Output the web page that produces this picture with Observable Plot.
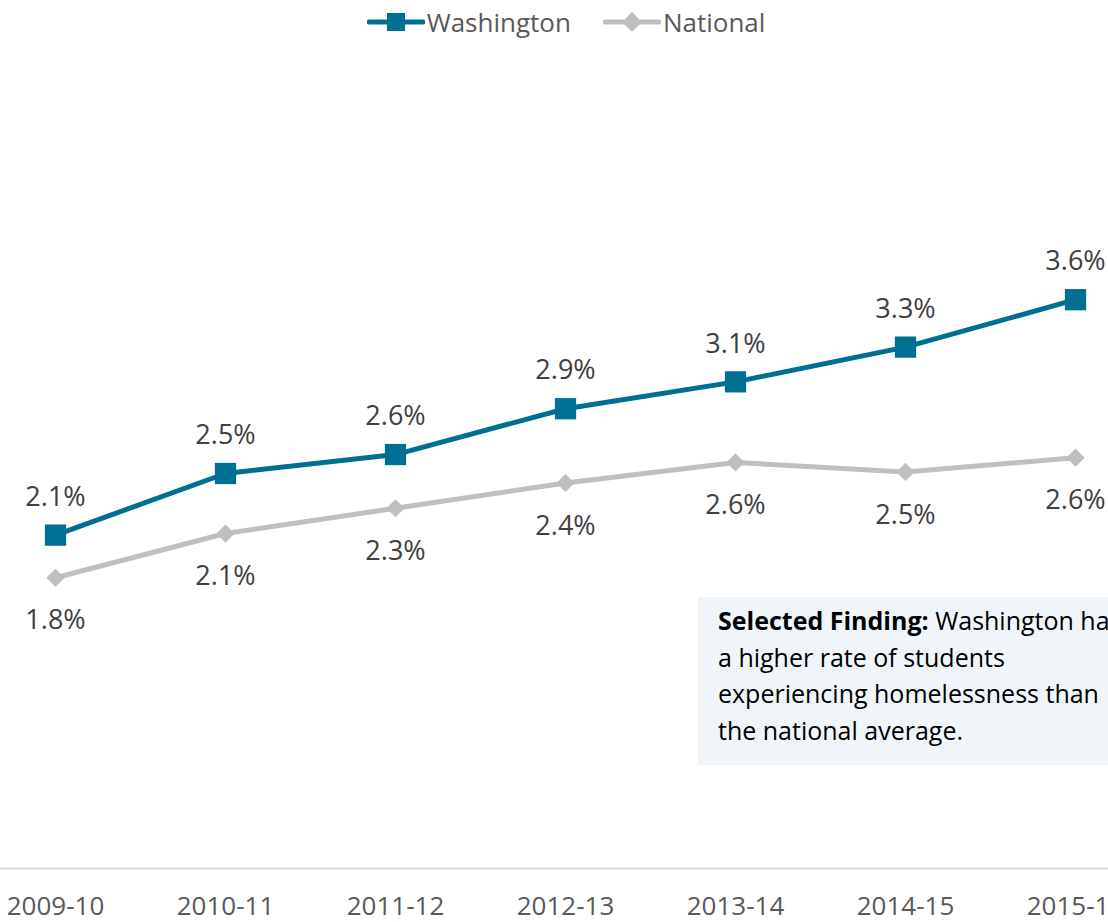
<!DOCTYPE html>
<html>
<head>
<meta charset="utf-8">
<script src="https://cdn.jsdelivr.net/npm/d3@7"></script>
<script src="https://cdn.jsdelivr.net/npm/@observablehq/plot@0.6"></script>
<style>
  html, body { margin: 0; padding: 0; background: #fff; }
  #wrap { position: relative; width: 1108px; height: 922px; overflow: hidden; font-family: "Open Sans", sans-serif; }
  #legend { height: 44px; display: flex; justify-content: center; align-items: center; gap: 32px; font-size: 26px; color: #595959; padding-left: 24px; box-sizing: border-box; }
  #legend .item { display: flex; align-items: center; }
  #legend svg { display: block; margin-right: 2px; }
  #note { position: absolute; left: 698px; top: 597px; width: 520px; height: 168px; background: #eff5f9; box-sizing: border-box; padding: 5px 0 0 20px; font-size: 25px; line-height: 36.5px; color: #000; white-space: pre; }
</style>
</head>
<body>
<div id="wrap">
  <div id="legend"></div>
  <div id="chart"></div>
  <div id="note"></div>
</div>
<script>
const years = ["2009-10", "2010-11", "2011-12", "2012-13", "2013-14", "2014-15", "2015-16"];
const washington = [2.11, 2.50, 2.62, 2.91, 3.08, 3.30, 3.60];
const national = [1.84, 2.12, 2.28, 2.44, 2.57, 2.51, 2.60];
const seriesNames = ["Washington", "National"];
const seriesColors = ["#006f94", "#bfbfbf"];
const noteBold = "Selected Finding:";
const noteText = " Washington has\na higher rate of students\nexperiencing homelessness than\nthe national average.";

const wData = years.map((y, i) => ({year: y, value: washington[i]}));
const nData = years.map((y, i) => ({year: y, value: national[i]}));
const fmt = d => d3.format(".1f")(d.value) + "%";

// Legend
const legend = document.getElementById("legend");
seriesNames.forEach((name, i) => {
  const item = document.createElement("div");
  item.className = "item";
  const sym = i === 0
    ? `<rect x="20" y="1" width="18" height="18" fill="${seriesColors[i]}"/>`
    : `<rect x="22" y="3" width="14" height="14" fill="${seriesColors[i]}" transform="rotate(45 29 10)"/>`;
  item.innerHTML = `<svg width="58" height="20"><line x1="2" y1="10" x2="56" y2="10" stroke="${seriesColors[i]}" stroke-width="5" stroke-linecap="round"/>${sym}</svg><span>${name}</span>`;
  legend.appendChild(item);
});

// Note
document.getElementById("note").innerHTML = `<b>${noteBold}</b>${noteText}`;

const chart = Plot.plot({
  width: 1108,
  height: 878,
  marginTop: 34,
  marginBottom: 54,
  marginLeft: 0,
  marginRight: 0,
  style: {fontFamily: "Open Sans", fontSize: "26px", color: "#595959", background: "white", overflow: "hidden"},
  x: {type: "point", domain: years, range: [55, 1075], padding: 0, label: null},
  y: {domain: [0, 5], axis: null},
  marks: [
    Plot.ruleY([0], {stroke: "#d9d9d9", strokeWidth: 2}),
    Plot.axisX({tickSize: 0, tickPadding: 28, fontSize: 26, fill: "#595959", label: null}),
    Plot.line(nData, {x: "year", y: "value", stroke: seriesColors[1], strokeWidth: 5}),
    Plot.dot(nData, {x: "year", y: "value", symbol: "diamond2", r: 8.2, fill: seriesColors[1], stroke: "none"}),
    Plot.line(wData, {x: "year", y: "value", stroke: seriesColors[0], strokeWidth: 5}),
    Plot.dot(wData, {x: "year", y: "value", symbol: "square", r: 12, fill: seriesColors[0], stroke: "none"}),
    Plot.text(wData, {x: "year", y: "value", text: fmt, dy: -38, fill: "#404040", fontSize: 27}),
    Plot.text(nData, {x: "year", y: "value", text: fmt, dy: 43, fill: "#404040", fontSize: 27})
  ]
});
document.getElementById("chart").appendChild(chart);
</script>
</body>
</html>
